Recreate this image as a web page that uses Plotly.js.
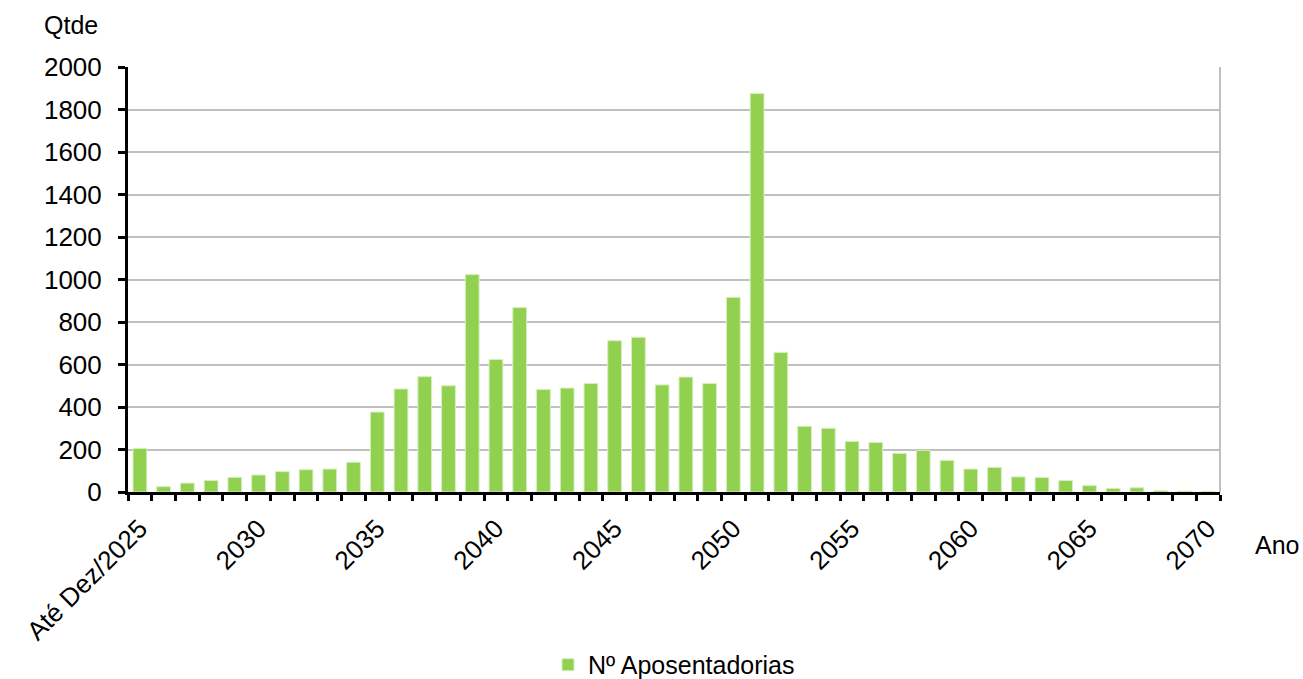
<!DOCTYPE html>
<html>
<head>
<meta charset="utf-8">
<script src="https://cdn.plot.ly/plotly-3.0.1.min.js"></script>
<style>html,body{margin:0;padding:0;background:#fff;}#chart{width:1303px;height:679px;}</style>
</head>
<body>
<div id="chart"></div>
<script>
const categories = ["Até Dez/2025","2026","2027","2028","2029","2030","2031","2032","2033","2034",
  "2035","2036","2037","2038","2039","2040","2041","2042","2043","2044",
  "2045","2046","2047","2048","2049","2050","2051","2052","2053","2054",
  "2055","2056","2057","2058","2059","2060","2061","2062","2063","2064",
  "2065","2066","2067","2068","2069","2070"];
const aposentadorias = [205,25,42,54,69,80,96,105,108,140,
  376,485,543,500,1023,624,868,482,489,511,
  712,728,504,541,511,916,1875,657,309,300,
  238,233,182,196,149,108,116,71,68,54,
  30,17,20,6,4,3];
const tickLabels = ["Até Dez/2025","","","","","2030","","","","",
  "2035","","","","","2040","","","","",
  "2045","","","","","2050","","","","",
  "2055","","","","","2060","","","","",
  "2065","","","","","2070"];
const seriesName = "Nº Aposentadorias";
const yTitle = "Qtde";
const xTitle = "Ano";

const font = "Liberation Sans, Arial, sans-serif";
const fs = 26;

const trace = {
  type: "bar",
  x: categories,
  y: aposentadorias,
  name: seriesName,
  marker: {color: "#92D050", line: {color: "#d6efc0", width: 1}},
  showlegend: true
};

const layout = {
  width: 1303, height: 679,
  margin: {l: 128, r: 83, t: 67, b: 187, autoexpand: false},
  paper_bgcolor: "#ffffff",
  plot_bgcolor: "#ffffff",
  font: {family: font, size: fs, color: "#000"},
  bargap: 0.42,
  showlegend: true,
  legend: {orientation: "h", x: 0.5, xanchor: "center", y: -0.407, yanchor: "middle",
    font: {family: font, size: 25, color: "#000"}},
  xaxis: {
    type: "category",
    tickmode: "array",
    tickvals: categories,
    ticktext: tickLabels,
    tickangle: -45,
    tickson: "boundaries",
    ticks: "outside", ticklen: 6, tickwidth: 3, tickcolor: "#000",
    ticklabelstandoff: 8,
    showline: true, linecolor: "#000", linewidth: 3,
    showgrid: false,
    automargin: false,
    tickfont: {family: font, size: fs, color: "#000"}
  },
  yaxis: {
    range: [0, 2000],
    tickmode: "linear", tick0: 0, dtick: 200,
    ticks: "outside", ticklen: 7, tickwidth: 3, tickcolor: "#000",
    ticklabelstandoff: 11,
    showline: true, linecolor: "#000", linewidth: 3,
    showgrid: true, gridcolor: "#c0c0c0", gridwidth: 2,
    zeroline: false,
    automargin: false,
    tickfont: {family: font, size: fs, color: "#000"}
  },
  shapes: [
    {type: "line", xref: "paper", yref: "paper", x0: 1, x1: 1, y0: 0, y1: 1,
     line: {color: "#c0c0c0", width: 2}}
  ],
  annotations: [
    {text: yTitle, xref: "paper", yref: "paper", x: -0.052, y: 1.099, xanchor: "center", yanchor: "middle",
     showarrow: false, font: {family: font, size: 25, color: "#000"}},
    {text: xTitle, xref: "paper", yref: "paper", x: 1.052, y: -0.125, xanchor: "center", yanchor: "middle",
     showarrow: false, font: {family: font, size: 25, color: "#000"}}
  ]
};

Plotly.newPlot("chart", [trace], layout, {displayModeBar: false, staticPlot: true});
</script>
</body>
</html>
